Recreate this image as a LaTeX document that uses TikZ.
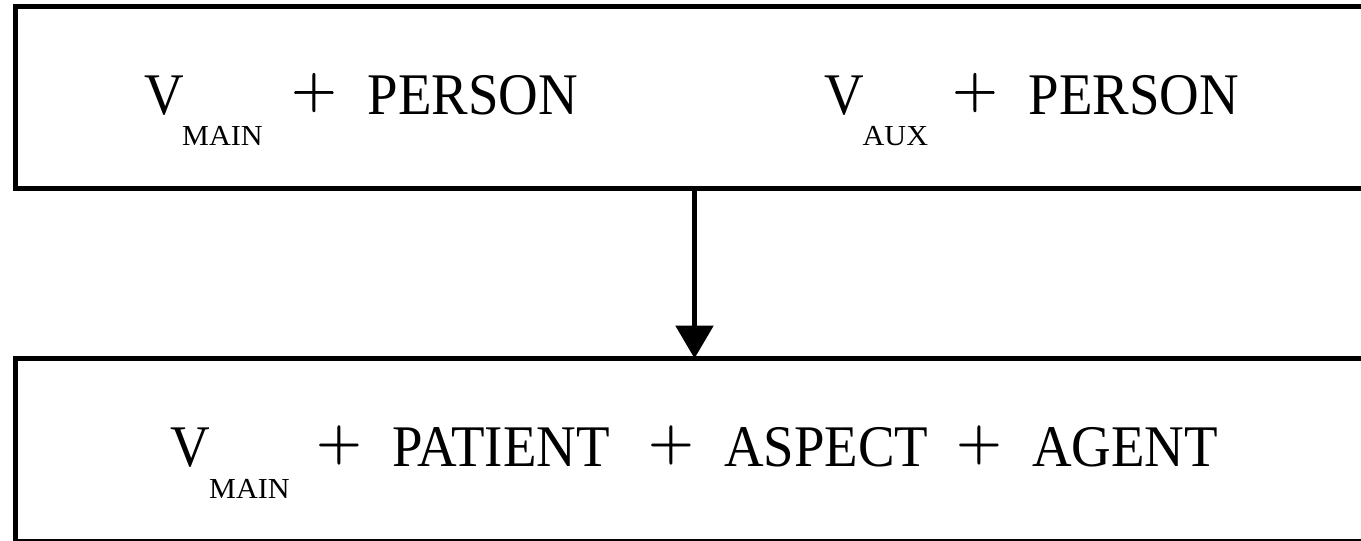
\documentclass[tikz,border=0pt]{standalone}
\usepackage{fontspec}
\setmainfont{Liberation Serif}[FakeStretch=0.93]
\newfontfamily\subfont{Liberation Serif}[FakeStretch=1.04]
\newfontfamily\plusfont{Latin Modern Roman}[FakeBold=1.2]
\usetikzlibrary{arrows.meta}
\begin{document}
\begin{tikzpicture}[x=1pt,y=-1pt,
  box/.style={draw, line width=4.5pt, minimum width=1400pt, inner sep=0pt, outer sep=0pt, anchor=north west},
  word/.style={anchor=base west, inner sep=0pt, font=\fontsize{59}{60}\selectfont},
  sub/.style={anchor=base west, inner sep=0pt, font=\subfont\fontsize{29}{30}\selectfont},
  op/.style={anchor=base west, inner sep=0pt, font=\plusfont\fontsize{61.5}{62}\selectfont},
  link/.style={line width=5.7pt, -{Triangle[width=37pt,length=33pt]}}]
\useasboundingbox (0,0) rectangle (1361,541);
\clip (0,0) rectangle (1361,541);
\node[box, minimum height=182pt] (top) at (15.7,6.7) {};
\node[box, minimum height=182.5pt] (bot) at (15.7,358.5) {};
\coordinate (ax) at (694.5,0);
\draw[link] (top.south -| ax) -- (bot.north -| ax);
% line 1
\node[word] (v1) at (144,114.3) {V};
\node[sub] (m1) at (182,145) {MAIN};
\node[op] (p1) at (291.6,107.9) {+};
\node[word] (w1) at (367.5,114.3) {PERSON};
\node[word] (v2) at (824,114.3) {V};
\node[sub] (a2) at (862.5,145) {AUX};
\node[op] (p2) at (952.6,107.9) {+};
\node[word] (w2) at (1028.5,114.3) {PERSON};
% line 2
\node[word] (v3) at (170,466.7) {V};
\node[sub] (m3) at (209,498) {MAIN};
\node[op] (p3) at (316.6,460.3) {+};
\node[word] (w3) at (392,466.7) {PATIENT};
\node[op] (p4) at (648.6,460.3) {+};
\node[word] (w4) at (724,466.7) {ASPECT};
\node[op] (p5) at (956.6,460.3) {+};
\node[word] (w5) at (1032,466.7) {AGENT};
\end{tikzpicture}
\end{document}
